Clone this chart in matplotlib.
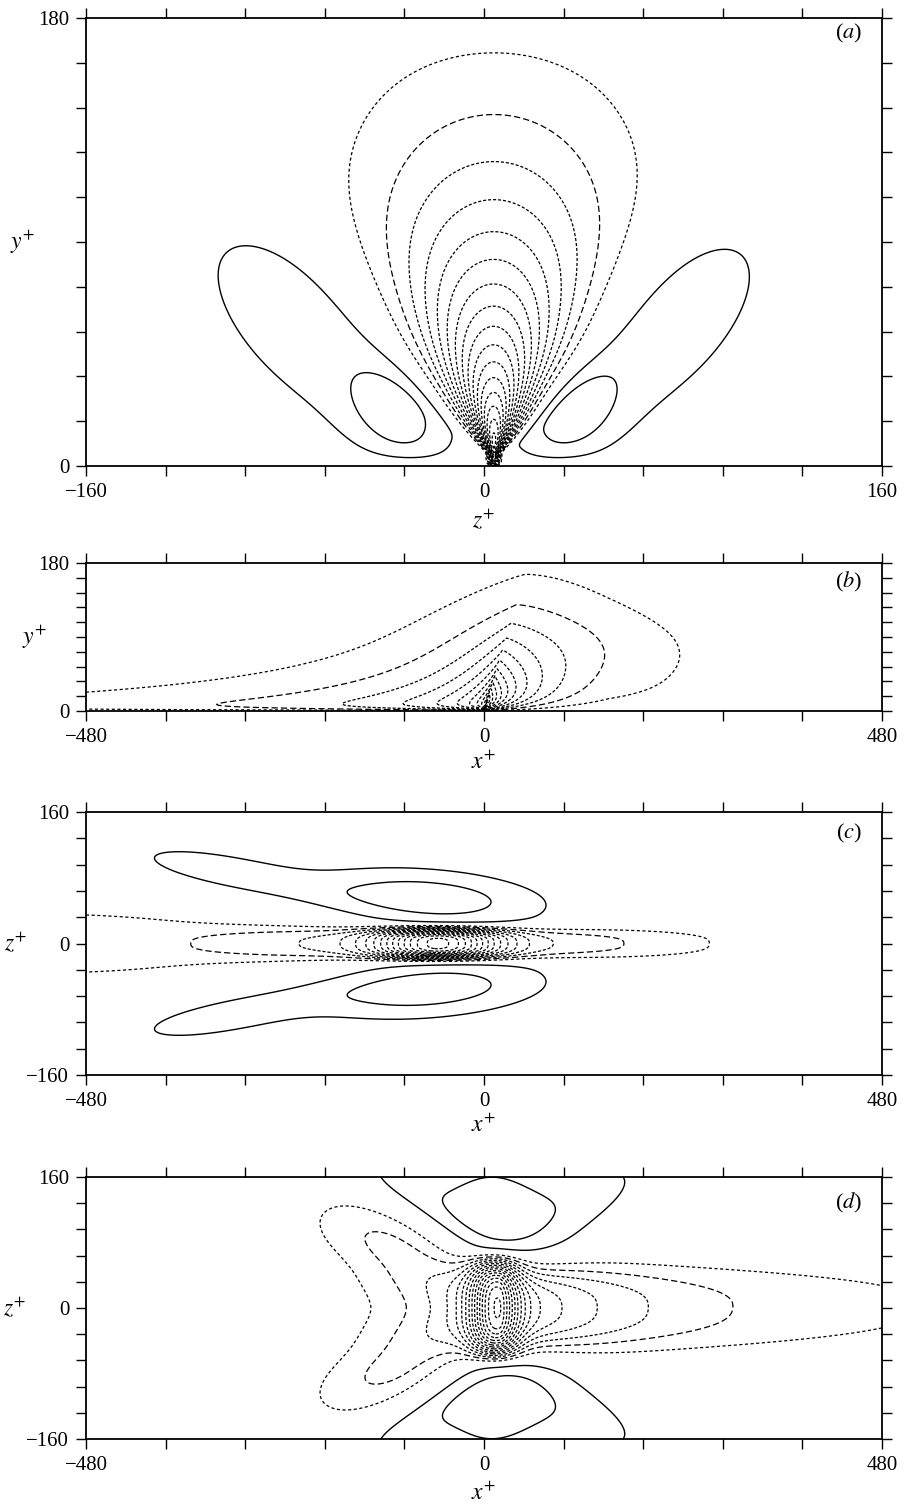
import numpy as np
import matplotlib.pyplot as plt

plt.rcParams['font.family'] = ['Liberation Serif', 'DejaVu Serif']
plt.rcParams['mathtext.fontset'] = 'stix'

# contour levels (equal steps, negative dashed / positive solid)
LEVEL_STEP = 0.0625
N_NEG = 18
N_POS = 4

# ---- panel (a): z+ / y+ plane ----
A_XLIM = [-160, 160]
A_YLIM = [0, 180]
A_XTICKS = [-160, -128, -96, -64, -32, 0, 32, 64, 96, 128, 160]
A_YTICKS = [0, 18, 36, 54, 72, 90, 108, 126, 144, 162, 180]
A_XLABELS = {-160: '\u2212160', 0: '0', 160: '160'}
A_YLABELS = {0: '0', 180: '180'}
# negative plume: amplitude, centre z, decay height, offset
A_PLUME = [1.37, 4.0, 80.0, 0.08]
# plume width: s0 + s1*y + s2*y^2
A_WIDTH = [-1.0, 0.457, -0.00103]
# positive lobes
A_POS_X = [-35, -72, 35, 72]
A_POS_Y = [20, 55, 20, 55]
A_POS_AMP = [0.12, 0.10, 0.12, 0.10]
A_POS_SU = [16, 46, 16, 46]
A_POS_SV = [11, 22, 11, 22]
A_POS_ANG = [135, 135, 45, 45]

# ---- panel (b): x+ / y+ plane ----
B_XLIM = [-480, 480]
B_YLIM = [0, 180]
B_XTICKS = list(range(-480, 481, 96))
B_YTICKS = A_YTICKS
B_XLABELS = {-480: '\u2212480', 0: '0', 480: '480'}
B_YLABELS = {0: '0', 180: '180'}
# amplitude, x0, tilt, decay height
B_PLUME = [1.0, 0.0, 0.3, 59.0]
# downstream side: a0, a1, p0, p1   (scale = a0 + a1*y, power = p0 + p1*y)
B_RIGHT = [65.0, 0.55, 0.60, 0.006]
# upstream side
B_LEFT = [60.0, 0.50, 0.35, 0.0045]
# weak downstream skirt: x, y, amp, sx, sy
B_SKIRT = [140.0, 75.0, 0.05, 110.0, 40.0]
# wall layer thickness: upstream value, extra downstream, ramp length
B_WALL = [3.0, 30.0, 150.0]

# ---- panel (c): x+ / z+ plane ----
C_XLIM = [-480, 480]
C_YLIM = [-160, 160]
C_XTICKS = B_XTICKS
C_YTICKS = list(range(-160, 161, 32))
C_XLABELS = B_XLABELS
C_YLABELS = {-160: '\u2212160', 0: '0', 160: '160'}
C_NEG_X = [-55, -40, -600]
C_NEG_Z = [0, 0, 0]
C_NEG_AMP = [-0.75, -0.238, -0.09]
C_NEG_SU = [50, 190, 300]
C_NEG_SUL = [50, 190, 300]
C_NEG_SV = [15, 15, 40]
C_NEG_PV = [4, 3, 4]
C_NEG_ANG = [0, 0, 0]
C_POS_X = [-70, -320, -70, -320]
C_POS_Z = [54, 91, -54, -91]
C_POS_AMP = [0.17, 0.10, 0.17, 0.10]
C_POS_SU = [105, 80, 105, 80]
C_POS_SV = [26, 16, 26, 16]
C_POS_ANG = [-4, -10, 4, 10]

# ---- panel (d): x+ / z+ plane ----
D_NEG_X = [12, 20, 450, -95, -95]
D_NEG_Z = [0, 0, 3, 70, -70]
D_NEG_AMP = [-0.55, -0.45, -0.04, -0.16, -0.16]
D_NEG_SU = [20, 88, 250, 80, 80]
D_NEG_SUL = [20, 35, 250, 80, 80]
D_NEG_SV = [52, 40, 45, 32, 32]
D_NEG_PU = [2, 1, 2, 2, 2]
D_NEG_PV = [6, 3, 2, 2, 2]
D_NEG_ANG = [0, 0, 0, -22, 22]
# positive: central ovals plus two arms each side
D_POS_X = [8, -105, 130, 8, -105, 130]
D_POS_Z = [120, 152, 138, -120, -152, -138]
D_POS_AMP = [0.16, 0.065, 0.07, 0.16, 0.065, 0.07]
D_POS_SU = [60, 60, 75, 60, 60, 75]
D_POS_SV = [55, 22, 30, 55, 22, 30]
D_POS_ANG = [0, -29, 27, 0, 29, -27]


def blobs(X, Y, xc, yc, amp, su, sv, ang, pu=None, pv=None, sul=None):
    F = np.zeros_like(X)
    n = len(xc)
    pu = pu or [2] * n
    pv = pv or [2] * n
    sul = sul or su
    for i in range(n):
        t = np.radians(ang[i])
        dx, dy = X - xc[i], Y - yc[i]
        u = dx * np.cos(t) + dy * np.sin(t)
        v = -dx * np.sin(t) + dy * np.cos(t)
        s_u = np.where(u >= 0, su[i], sul[i])
        F += amp[i] * np.exp(-0.5 * np.abs(u / s_u) ** pu[i]
                             - 0.5 * np.abs(v / sv[i]) ** pv[i])
    return F


def field_a(Z, Y):
    amp, z0, L, off = A_PLUME
    sig = np.maximum(A_WIDTH[0] + A_WIDTH[1] * Y + A_WIDTH[2] * Y ** 2, 1.5)
    neg = -amp * np.maximum(np.exp(-Y / L) - off, 0) * np.exp(-0.5 * ((Z - z0) / sig) ** 2)
    pos = blobs(Z, Y, A_POS_X, A_POS_Y, A_POS_AMP, A_POS_SU, A_POS_SV, A_POS_ANG)
    return (1.0 - np.exp(-Y / 3.0)) * (neg + pos)


def field_b(X, Y):
    amp, x0, tilt, L = B_PLUME
    d = X - (x0 + tilt * Y)
    aR = B_RIGHT[0] + B_RIGHT[1] * Y
    pR = np.minimum(B_RIGHT[2] + B_RIGHT[3] * Y, 2.0)
    aL = B_LEFT[0] + B_LEFT[1] * Y
    pL = np.minimum(B_LEFT[2] + B_LEFT[3] * Y, 2.0)
    H = np.where(d >= 0, np.exp(-(np.abs(d) / aR) ** pR),
                 np.exp(-(np.abs(d) / aL) ** pL))
    core = amp * np.exp(-Y / L) * H
    sx, sy, sa, ssx, ssy = B_SKIRT
    skirt = sa * np.exp(-0.5 * ((X - sx) / ssx) ** 2 - 0.5 * ((Y - sy) / ssy) ** 2)
    delta = B_WALL[0] + B_WALL[1] * np.clip(X / B_WALL[2], 0, 1)
    return -(1.0 - np.exp(-Y / delta)) * (core + skirt)


def field_c(X, Z):
    return (blobs(X, Z, C_NEG_X, C_NEG_Z, C_NEG_AMP, C_NEG_SU, C_NEG_SV, C_NEG_ANG,
                  pv=C_NEG_PV, sul=C_NEG_SUL)
            + blobs(X, Z, C_POS_X, C_POS_Z, C_POS_AMP, C_POS_SU, C_POS_SV, C_POS_ANG))


def field_d(X, Z):
    return (blobs(X, Z, D_NEG_X, D_NEG_Z, D_NEG_AMP, D_NEG_SU, D_NEG_SV, D_NEG_ANG,
                  D_NEG_PU, D_NEG_PV, D_NEG_SUL)
            + blobs(X, Z, D_POS_X, D_POS_Z, D_POS_AMP, D_POS_SU, D_POS_SV, D_POS_ANG))


def draw_contours(ax, X, Y, F):
    neg_levels = -LEVEL_STEP * np.arange(N_NEG, 0, -1)
    pos_levels = LEVEL_STEP * np.arange(1, N_POS + 1)
    styles = []
    for lv in neg_levels:
        k = int(round(-lv / LEVEL_STEP))
        if k == 1:
            styles.append((0, (2.5, 2.0)))
        elif k == 2:
            styles.append((0, (5.0, 2.5)))
        else:
            styles.append((0, (2.5, 1.5)))
    ax.contour(X, Y, F, levels=neg_levels, colors='k', linewidths=0.9,
               linestyles=styles)
    ax.contour(X, Y, F, levels=pos_levels, colors='k', linewidths=1.0,
               linestyles='solid')


def style_axes(ax, xlim, ylim, xticks, yticks, xlab, ylab, xname, yname,
               letter, xname_pos, yname_pos, letter_y):
    ax.set_xlim(xlim)
    ax.set_ylim(ylim)
    ax.set_xticks(xticks)
    ax.set_yticks(yticks)
    ax.set_xticklabels([xlab.get(t, '') for t in xticks])
    ax.set_yticklabels([ylab.get(t, '') for t in yticks])
    ax.tick_params(direction='out', length=7, width=1.0, top=True, right=True,
                   labelsize=15, pad=5)
    for s in ax.spines.values():
        s.set_linewidth(1.3)
    ax.set_xlabel(xname, fontsize=17)
    ax.set_ylabel(yname, fontsize=17, rotation=0, va='center')
    ax.xaxis.set_label_coords(0.5, xname_pos)
    ax.yaxis.set_label_coords(yname_pos, 0.5)
    ax.text(0.958, letter_y, '($%s$)' % letter, transform=ax.transAxes,
            ha='center', va='center', fontsize=16)


fig = plt.figure(figsize=(9.05, 15.06), dpi=100, facecolor='white')

# (a)
ax = fig.add_axes([0.0950, 0.6906, 0.8796, 0.2975])
z = np.linspace(A_XLIM[0], A_XLIM[1], 641)
y = np.linspace(A_YLIM[0], A_YLIM[1], 361)
Z, Y = np.meshgrid(z, y)
draw_contours(ax, Z, Y, field_a(Z, Y))
style_axes(ax, A_XLIM, A_YLIM, A_XTICKS, A_YTICKS, A_XLABELS, A_YLABELS,
           '$z^{+}$', '$y^{+}$', 'a', -0.095, -0.08, 0.966)

# (b)
ax = fig.add_axes([0.0950, 0.5279, 0.8796, 0.0983])
x = np.linspace(B_XLIM[0], B_XLIM[1], 961)
y = np.linspace(B_YLIM[0], B_YLIM[1], 361)
X, Y = np.meshgrid(x, y)
draw_contours(ax, X, Y, field_b(X, Y))
style_axes(ax, B_XLIM, B_YLIM, B_XTICKS, B_YTICKS, B_XLABELS, B_YLABELS,
           '$x^{+}$', '$y^{+}$', 'b', -0.27, -0.065, 0.87)

# (c)
ax = fig.add_axes([0.0950, 0.2862, 0.8796, 0.1746])
x = np.linspace(C_XLIM[0], C_XLIM[1], 961)
zz = np.linspace(C_YLIM[0], C_YLIM[1], 641)
X, Z = np.meshgrid(x, zz)
draw_contours(ax, X, Z, field_c(X, Z))
style_axes(ax, C_XLIM, C_YLIM, C_XTICKS, C_YTICKS, C_XLABELS, C_YLABELS,
           '$x^{+}$', '$z^{+}$', 'c', -0.15, -0.088, 0.92)

# (d)
ax = fig.add_axes([0.0950, 0.0445, 0.8796, 0.1740])
draw_contours(ax, X, Z, field_d(X, Z))
style_axes(ax, C_XLIM, C_YLIM, C_XTICKS, C_YTICKS, C_XLABELS, C_YLABELS,
           '$x^{+}$', '$z^{+}$', 'd', -0.165, -0.09, 0.90)

fig.savefig('out.png', dpi=100, facecolor='white')
